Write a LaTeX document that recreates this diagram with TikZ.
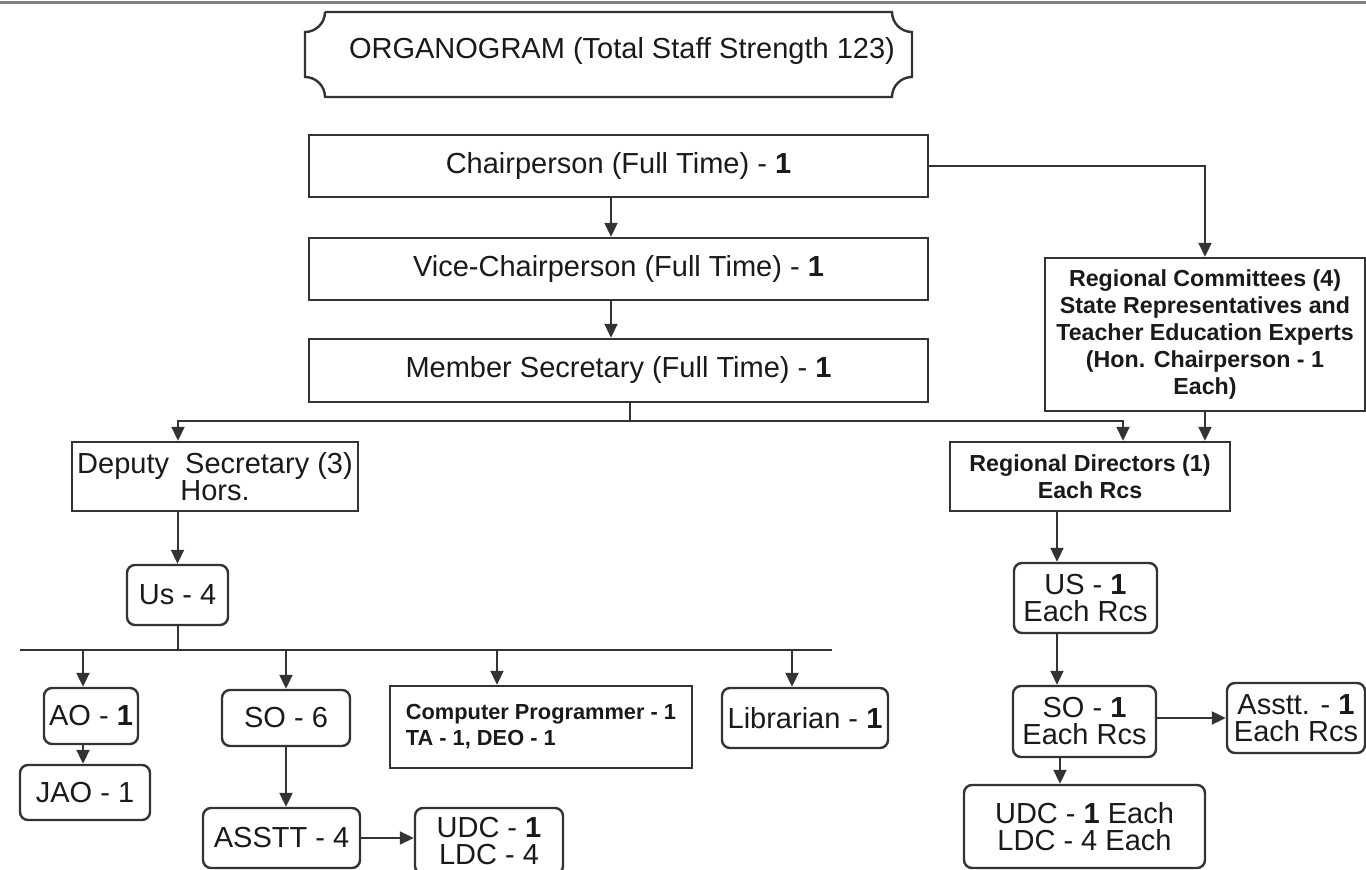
\documentclass[tikz,border=0pt]{standalone}
\usepackage{fontspec}
\setmainfont{Liberation Sans}
\usetikzlibrary{arrows.meta}

\definecolor{boxline}{HTML}{333333}
\definecolor{txt}{HTML}{1A1A1A}

\tikzset{
  box/.style={draw=boxline, line width=1.2pt, fill=white, align=center, inner sep=0pt,
    text=txt, font=\fontsize{14.5}{13.5}\selectfont},
  rbox/.style={box, rounded corners=4pt},
  boldbox/.style={box, font=\bfseries\fontsize{11.6}{13.5}\selectfont},
  arr/.style={-{Triangle[length=7pt,width=6.5pt]}, line width=1pt, draw=boxline},
  link/.style={line width=1pt, draw=boxline},
}

\begin{document}
\begin{tikzpicture}[x=0.5pt, y=-0.5pt]
    \useasboundingbox (0,0) rectangle (1366,870);
    \clip (0,0) rectangle (1366,870);

    % top rule
    \draw[gray, line width=1.5pt] (0,3) -- (1366,3);

    % title plate
    \draw[boxline, line width=1.2pt] (325,12) -- (892,12)
        .. controls (892,23) and (901,32) .. (912,32) -- (912,77)
        .. controls (901,77) and (892,86) .. (892,97) -- (325,97)
        .. controls (325,86) and (316,77) .. (305,77) -- (305,32)
        .. controls (316,32) and (325,23) .. (325,12);
    \node[text=txt, font=\fontsize{14.5}{13.5}\selectfont] (title) at (622,51) {ORGANOGRAM (Total Staff Strength 123)};

    % top of the chain
    \node[box, minimum width=309.5pt, minimum height=31pt] (chair) at (618.5,166) {Chairperson (Full Time) - \textbf{1}};
    \node[box, minimum width=309.5pt, minimum height=31pt] (vice) at (618.5,269) {Vice-Chairperson (Full Time) - \textbf{1}};
    \node[box, minimum width=309.5pt, minimum height=31.5pt] (msec) at (618.5,370.5) {Member Secretary (Full Time) - \textbf{1}};
    \node[boldbox, minimum width=160pt, minimum height=76.5pt] (rc) at (1205,334.5)
        {Regional Committees (4)\\State Representatives and\\Teacher Education Experts\\(Hon. Chairperson - 1\\Each)};

    % headquarters side
    \node[box, minimum width=143pt, minimum height=34.5pt] (dep) at (215,476.5) {Deputy\ \ Secretary (3)\\Hors.};
    \node[rbox, minimum width=50.5pt, minimum height=30pt] (us4) at (177.5,595) {Us - 4};
    \node[rbox, minimum width=47pt, minimum height=28pt] (ao) at (91,716) {AO - \textbf{1}};
    \node[rbox, minimum width=65pt, minimum height=27.5pt] (jao) at (85,792.5) {JAO - 1};
    \node[rbox, minimum width=64pt, minimum height=28pt] (so6) at (286,718) {SO - 6};
    \node[rbox, minimum width=78.5pt, minimum height=30pt] (asstt) at (281.5,838) {ASSTT - 4};
    \node[rbox, minimum width=74pt, minimum height=33pt] (udc) at (489,841) {UDC - \textbf{1}\\LDC - 4};
    \node[box, minimum width=151pt, minimum height=41pt, align=left,
        font=\bfseries\fontsize{10.9}{13}\selectfont] (cp) at (541,727) {Computer Programmer - 1\\TA - 1, DEO - 1};
    \node[rbox, minimum width=83pt, minimum height=30pt] (lib) at (805,718) {Librarian - \textbf{1}};

    % regional side
    \node[boldbox, minimum width=140pt, minimum height=34.5pt] (rd) at (1090,476.5) {Regional Directors (1)\\Each Rcs};
    \node[rbox, minimum width=71.5pt, minimum height=35pt] (us1) at (1085.5,598) {US - \textbf{1}\\Each Rcs};
    \node[rbox, minimum width=71.5pt, minimum height=35.5pt] (so1) at (1084.5,721.5) {SO - \textbf{1}\\Each Rcs};
    \node[rbox, minimum width=69pt, minimum height=35pt] (asst) at (1296,718) {Asstt. - \textbf{1}\\Each Rcs};
    \node[rbox, minimum width=120.5pt, minimum height=41.5pt] (udc2) at (1084.5,826.5) {UDC - \textbf{1} Each\\LDC - 4 Each};

    % connectors
    \draw[arr] (611,0 |- chair.south) -- (611,0 |- vice.north);
    \draw[arr] (611,0 |- vice.south) -- (611,0 |- msec.north);
    \draw[arr] (chair.east) -| (rc.north);

    \coordinate (busA) at (630,421);
    \draw[link] (630,0 |- msec.south) -- (busA);
    \draw[arr] (busA) -| (178,0 |- dep.north);
    \draw[arr] (busA) -| (1123,0 |- rd.north);
    \draw[arr] (rc.south) -- (rc.south |- rd.north);

    \draw[arr] (us4.north |- dep.south) -- (us4.north);
    \coordinate (busL) at (20,650);
    \coordinate (busR) at (832,650);
    \draw[link] (us4.south) -- (us4.south |- busL);
    \draw[link] (busL) -- (busR);
    \draw[arr] (83,650) -- (83,0 |- ao.north);
    \draw[arr] (so6.north |- busL) -- (so6.north);
    \draw[arr] (497,650) -- (497,0 |- cp.north);
    \draw[arr] (792,650) -- (792,0 |- lib.north);
    \draw[arr] (83,0 |- ao.south) -- (83,0 |- jao.north);
    \draw[arr] (so6.south) -- (so6.south |- asstt.north);
    \draw[arr] (asstt.east) -- (asstt.east -| udc.west);

    \draw[arr] (1057,0 |- rd.south) -- (1057,0 |- us1.north);
    \draw[arr] (1057,0 |- us1.south) -- (1057,0 |- so1.north);
    \draw[arr] (so1.east |- asst.west) -- (asst.west);
    \draw[arr] (1060,0 |- so1.south) -- (1060,0 |- udc2.north);
\end{tikzpicture}
\end{document}
